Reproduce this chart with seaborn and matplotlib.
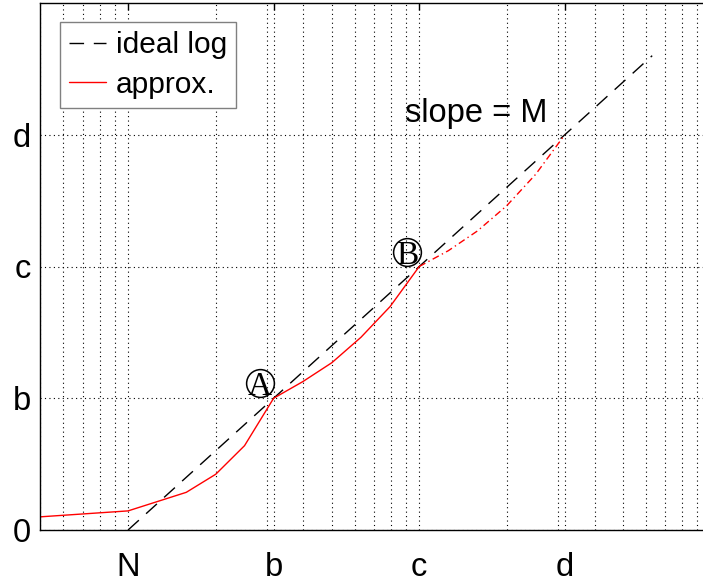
import numpy as np
import pandas as pd
import matplotlib
matplotlib.use("Agg")
import matplotlib.pyplot as plt
import seaborn as sns
from matplotlib.ticker import LogLocator, NullFormatter

# x values are multiples of N on a log axis; y in units of one tick step
ideal_x = [1.0, 63.1]
ideal_y = [0.0, 3.60]

approx_x = [0.5, 1.0, 1.585, 2.0, 2.512, 3.162, 3.981, 5.012, 6.310, 7.943, 10.0]
approx_y = [0.10, 0.145, 0.286, 0.423, 0.64, 1.0, 1.126, 1.27, 1.463, 1.696, 2.0]

ext_x = [10.0, 12.59, 15.85, 19.95, 25.12, 31.62]
ext_y = [2.0, 2.12, 2.27, 2.46, 2.70, 3.0]

xtick_vals = [1.0, 3.162, 10.0, 31.62]
xtick_labels = ["N", "b", "c", "d"]
ytick_vals = [0, 1, 2, 3]
ytick_labels = ["0", "b", "c", "d"]

marker_x = [2.84, 9.09]
marker_y = [1.116, 2.111]
marker_labels = ["A", "B"]

legend_labels = ["ideal log", "approx."]

sns.set_theme(style="white")
plt.rcParams["font.family"] = ["Liberation Sans", "DejaVu Sans"]
plt.rcParams["text.color"] = "black"
plt.rcParams["axes.labelcolor"] = "black"
plt.rcParams["xtick.color"] = "black"
plt.rcParams["ytick.color"] = "black"

fig = plt.figure(figsize=(7.03, 5.82), dpi=100)
ax = fig.add_axes([40.4 / 703, 52 / 582, 670 / 703, 527 / 582])
ax.set_xscale("log")

red = "#ff0000"
ideal_df = pd.DataFrame({"x": ideal_x, "y": ideal_y})
approx_df = pd.DataFrame({"x": approx_x, "y": approx_y})
ext_df = pd.DataFrame({"x": ext_x, "y": ext_y})

sns.lineplot(data=ideal_df, x="x", y="y", ax=ax, color="black", linewidth=1.0,
             linestyle=(0, (10.5, 7)), estimator=None, sort=False)
sns.lineplot(data=approx_df, x="x", y="y", ax=ax, color=red, linewidth=1.0,
             estimator=None, sort=False)
sns.lineplot(data=ext_df, x="x", y="y", ax=ax, color=red, linewidth=1.0,
             linestyle=(0, (5, 2.5, 1, 2.5)), estimator=None, sort=False)

ax.set_xlim(0.5, 100)
ax.set_ylim(0, 4)
ax.set_xlabel("")
ax.set_ylabel("")

ax.set_xticks(xtick_vals, xtick_labels)
ax.xaxis.set_minor_locator(LogLocator(base=10, subs=np.arange(2, 10)))
ax.xaxis.set_minor_formatter(NullFormatter())
ax.set_yticks(ytick_vals, ytick_labels)

ax.tick_params(which="major", direction="in", length=5, width=1, color="black",
               top=True, right=True, labelsize=23.5, labelcolor="black")
ax.tick_params(axis="x", which="major", pad=15.5)
ax.tick_params(axis="y", which="major", pad=7)
ax.tick_params(which="minor", length=0)

grid_style = dict(color="black", linestyle=(0, (1, 3)), linewidth=0.8)
ax.grid(True, which="both", axis="x", **grid_style)
ax.grid(True, which="major", axis="y", **grid_style)

for s in ax.spines.values():
    s.set_color("black")
    s.set_linewidth(1.0)

# circled point labels
ax.plot(marker_x, marker_y, linestyle="none", marker="o", markersize=20,
        markerfacecolor="none", markeredgecolor="black", markeredgewidth=1.1)
for mx, my, lab in zip(marker_x, marker_y, marker_labels):
    ax.text(mx, my, lab, ha="center", va="center_baseline", fontsize=24,
            family=["Liberation Serif", "DejaVu Serif"], color="black")

ax.text(8.95, 3.10, "slope = M", ha="left", va="baseline", fontsize=23.5,
        color="black")

lines = ax.get_lines()
leg = ax.legend(handles=[lines[0], lines[1]], labels=legend_labels,
                loc="upper left", bbox_to_anchor=(60 / 703, 1 - 22 / 582),
                bbox_transform=fig.transFigure, borderaxespad=0,
                fontsize=21.5, frameon=True, fancybox=False, framealpha=1,
                edgecolor="#808080", handlelength=1.25, handletextpad=0.33,
                borderpad=0.3, labelspacing=0.4)
leg.get_frame().set_linewidth(1.0)
for t in leg.get_texts():
    t.set_color("black")

fig.savefig("out.png", dpi=100)
